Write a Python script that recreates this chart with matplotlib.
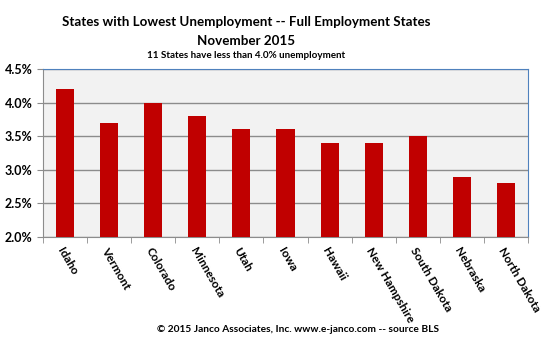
import matplotlib.pyplot as plt
from matplotlib.ticker import FuncFormatter

states = ['Idaho', 'Vermont', 'Colorado', 'Minnesota', 'Utah', 'Iowa', 'Hawaii',
          'New Hampshire', 'South Dakota', 'Nebraska', 'North Dakota']
rates = [4.2, 3.7, 4.0, 3.8, 3.6, 3.6, 3.4, 3.4, 3.5, 2.9, 2.8]
y_ticks = [2.0, 2.5, 3.0, 3.5, 4.0, 4.5]

plt.rcParams['font.family'] = ['Lato', 'DejaVu Sans']

fig = plt.figure(figsize=(5.47, 3.48), dpi=100)
ax = fig.add_axes([43 / 547, 1 - 237 / 348, 485 / 547, 168 / 348])

x = range(len(states))
ax.bar(x, [r - 2.0 for r in rates], bottom=2.0, width=0.41, color='#C00000', zorder=3)

ax.set_xlim(-0.5, len(states) - 0.5)
ax.set_ylim(2.0, 4.5)
ax.set_yticks(y_ticks)
ax.yaxis.set_major_formatter(FuncFormatter(lambda v, p: f'{v:.1f}%'))
ax.set_facecolor('#F2F2F2')
ax.grid(axis='y', color='#8C8C8C', linewidth=1, zorder=0)

# category boundary ticks
ax.set_xticks([i - 0.5 for i in range(len(states) + 1)], minor=True)
ax.set_xticks(list(x))
ax.set_xticklabels(states, rotation=-60, ha='left', va='top', rotation_mode='anchor',
                   fontsize=8.5, fontweight='bold')
ax.tick_params(axis='x', which='major', length=0, pad=6)
ax.tick_params(axis='x', which='minor', length=4, color='#8C8C8C')
ax.tick_params(axis='y', length=4, color='#8C8C8C', labelsize=9)
for lbl in ax.get_yticklabels():
    lbl.set_fontweight('bold')

for side in ['left', 'bottom']:
    ax.spines[side].set_color('#8C8C8C')
for side in ['top', 'right']:
    ax.spines[side].set_color('#4F81BD')

title_x = 246 / 547
fig.text(title_x, 1 - 22 / 348, 'States with Lowest Unemployment -- Full Employment States',
         ha='center', va='center', fontsize=9.6, fontweight='bold')
fig.text(title_x, 1 - 41 / 348, 'November 2015', ha='center', va='center',
         fontsize=9.6, fontweight='bold')
fig.text(title_x, 1 - 56 / 348, '11 States have less than 4.0% unemployment', ha='center',
         va='center', fontsize=7.1, fontweight='bold')
fig.text(298 / 547, 1 - 330 / 348, '\u00a9 2015 Janco Associates, Inc. www.e-janco.com -- source BLS',
         ha='center', va='center', fontsize=7.3, fontweight='bold')

fig.savefig('out.png', dpi=100)
